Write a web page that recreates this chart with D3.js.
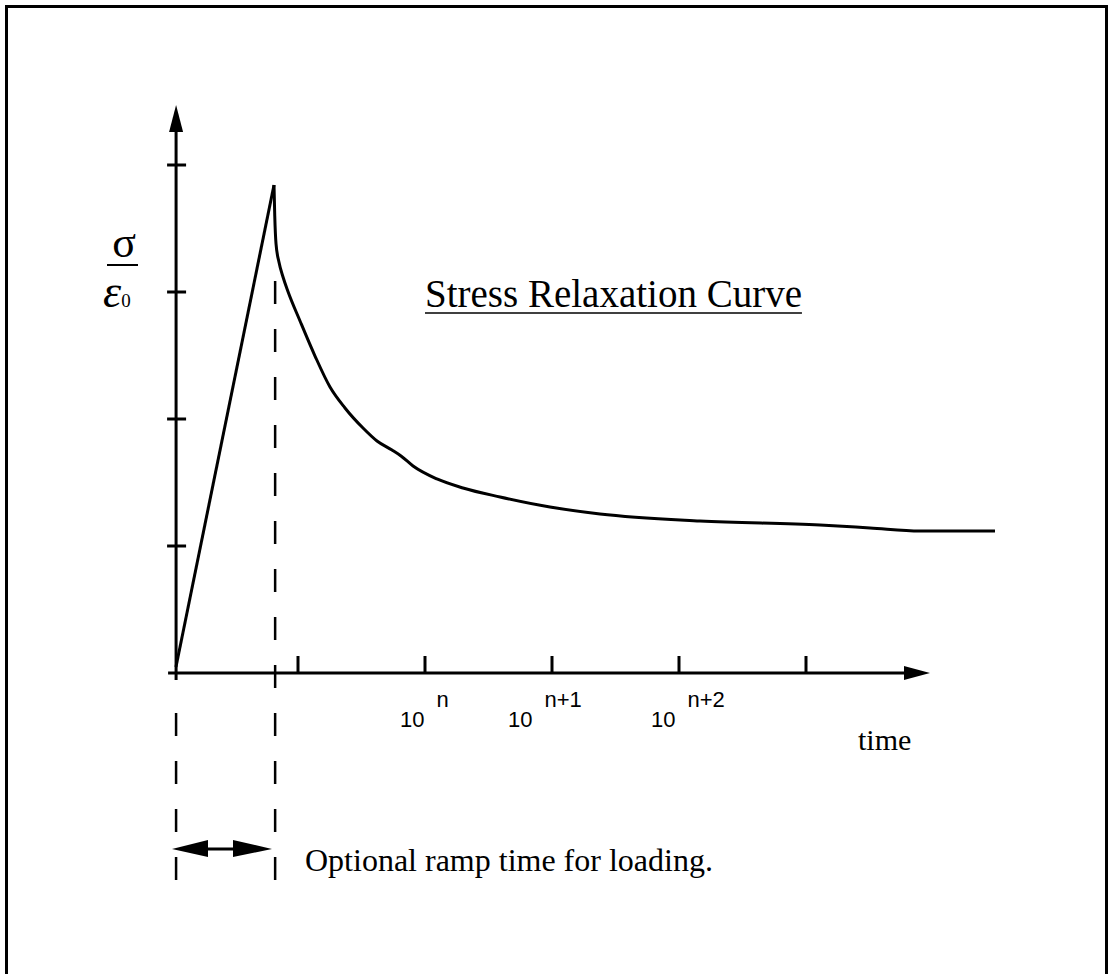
<!DOCTYPE html>
<html><head><meta charset="utf-8">
<script src="https://cdn.jsdelivr.net/npm/d3@7"></script>
<style>html,body{margin:0;padding:0;background:#fff;}svg{display:block;}</style>
</head><body>
<svg id="c" width="1112" height="974"></svg>
<script>
// ---- data (x in decades relative to first tick, y in stress units) ----
const xTickValues = [0, 1, 2, 3, 4];
const yTickValues = [1, 2, 3, 4];
const decadeLabels = ["n", "n+1", "n+2"];
const decadeLabelX = [0.803, 1.654, 2.78];
const originX = -0.96;
const rampEndX = -0.18;
const rampX = [-0.961, -0.189];
const rampY = [0.047, 3.843];
const relaxX = [-0.189, -0.183, -0.173, -0.150, -0.118, -0.079, 0.016, 0.134, 0.252, 0.370, 0.512, 0.622, 0.740, 0.811, 0.906, 1.094, 1.299, 1.591, 1.984, 2.378, 3.165, 4.110, 4.504, 4.898, 5.488];
const relaxY = [3.843, 3.598, 3.378, 3.236, 3.118, 3.004, 2.772, 2.496, 2.252, 2.087, 1.929, 1.827, 1.756, 1.709, 1.630, 1.528, 1.457, 1.386, 1.307, 1.252, 1.197, 1.165, 1.142, 1.118, 1.118];
const titleText = "Stress Relaxation Curve";
const xAxisLabel = "time";
const rampNote = "Optional ramp time for loading.";

const svg = d3.select("#c");
const x = d3.scaleLinear().domain([0, 4]).range([298, 806]);
const y = d3.scaleLinear().domain([0, 4]).range([673, 165]);
const serif = "'Liberation Serif','Times New Roman',serif";
const sans = "'Liberation Sans',Arial,sans-serif";
const SW = 3;

// frame
svg.append("rect").attr("x", 6.5).attr("y", 6.5).attr("width", 1100).attr("height", 1000)
  .attr("fill", "none").attr("stroke", "#000").attr("stroke-width", 3);

const g = svg.append("g");
const x0 = x(originX);
const xAxisEnd = 930;
const yAxisTop = 105;

// x axis line
g.append("line").attr("x1", x0 - 8).attr("x2", xAxisEnd - 20).attr("y1", y(0)).attr("y2", y(0))
  .attr("stroke", "#000").attr("stroke-width", SW);
g.append("path").attr("d", `M${xAxisEnd},${y(0)} L${xAxisEnd - 26},${y(0) - 7} L${xAxisEnd - 26},${y(0) + 7} Z`).attr("fill", "#000");
g.selectAll(".xt").data(xTickValues).join("line")
  .attr("x1", d => x(d)).attr("x2", d => x(d)).attr("y1", y(0)).attr("y2", y(0) - 17)
  .attr("stroke", "#000").attr("stroke-width", SW);
g.append("line").attr("x1", x0).attr("x2", x0).attr("y1", y(0) + 7).attr("y2", y(0))
  .attr("stroke", "#000").attr("stroke-width", SW);

// y axis
g.append("line").attr("x1", x0).attr("x2", x0).attr("y1", y(0)).attr("y2", yAxisTop + 20)
  .attr("stroke", "#000").attr("stroke-width", SW);
g.append("path").attr("d", `M${x0},${yAxisTop} L${x0 - 7},${yAxisTop + 27} L${x0 + 7},${yAxisTop + 27} Z`).attr("fill", "#000");
g.selectAll(".yt").data(yTickValues).join("line")
  .attr("x1", x0 - 9).attr("x2", x0 + 10).attr("y1", d => y(d)).attr("y2", d => y(d))
  .attr("stroke", "#000").attr("stroke-width", SW);

// dashed guide lines
const xr = x(rampEndX);
g.append("line").attr("x1", xr).attr("x2", xr).attr("y1", 880).attr("y2", 268)
  .attr("stroke", "#000").attr("stroke-width", 2.5).attr("stroke-dasharray", "23,25");
g.append("line").attr("x1", x0).attr("x2", x0).attr("y1", 880).attr("y2", 690)
  .attr("stroke", "#000").attr("stroke-width", 2.5).attr("stroke-dasharray", "23,25");

// curve
const line = d3.line().x(d => x(d[0])).y(d => y(d[1]));
g.append("path").datum(d3.zip(rampX, rampY)).attr("d", line)
  .attr("fill", "none").attr("stroke", "#000").attr("stroke-width", SW).attr("stroke-linejoin", "miter");
g.append("path").datum(d3.zip(relaxX, relaxY)).attr("d", line.curve(d3.curveMonotoneX))
  .attr("fill", "none").attr("stroke", "#000").attr("stroke-width", SW);

// decade labels
decadeLabels.forEach((lab, i) => {
  const t = g.append("text").attr("x", x(decadeLabelX[i])).attr("y", 727)
    .attr("font-family", sans).attr("font-size", 22);
  t.append("tspan").text("10");
  t.append("tspan").attr("dx", 12).attr("dy", -20).text(lab);
});

// title with underline
const title = g.append("text").attr("x", 425).attr("y", 307).attr("font-family", serif).attr("font-size", 39).text(titleText);
const tw = title.node().getComputedTextLength();
g.append("line").attr("x1", 425).attr("x2", 425 + tw).attr("y1", 313).attr("y2", 313).attr("stroke", "#000").attr("stroke-width", 1.5);

// axis labels
g.append("text").attr("x", 858).attr("y", 750).attr("font-family", serif).attr("font-size", 30).text(xAxisLabel);
g.append("text").attr("x", 124).attr("y", 257).attr("font-family", serif).attr("font-size", 44).attr("text-anchor", "middle").text("σ");
g.append("line").attr("x1", 107).attr("x2", 138).attr("y1", 265).attr("y2", 265).attr("stroke", "#000").attr("stroke-width", 2);
const eps = g.append("text").attr("x", 103).attr("y", 307).attr("font-family", serif).attr("font-size", 46).attr("font-style", "italic");
eps.append("tspan").text("ε");
eps.append("tspan").attr("font-size", 19).attr("font-style", "normal").attr("dx", 0).text("0");

// ramp arrow
const ay = 849;
g.append("line").attr("x1", 200).attr("x2", 240).attr("y1", ay).attr("y2", ay).attr("stroke", "#000").attr("stroke-width", SW);
g.append("path").attr("d", `M172,${ay} L208,${ay - 9} L208,${ay + 8} Z`).attr("fill", "#000");
g.append("path").attr("d", `M272,${ay} L233,${ay - 9} L233,${ay + 8} Z`).attr("fill", "#000");
g.append("text").attr("x", 305).attr("y", 871).attr("font-family", serif).attr("font-size", 32).text(rampNote);
</script>
</body></html>
